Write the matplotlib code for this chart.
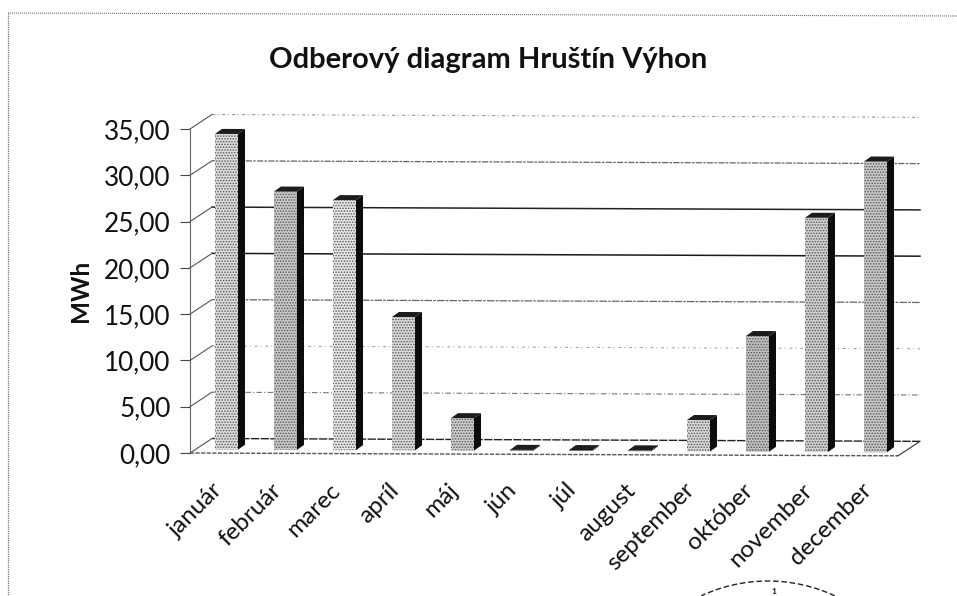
import matplotlib
matplotlib.use("Agg")
import matplotlib.pyplot as plt
from matplotlib.patches import Polygon, Arc
from matplotlib.transforms import Affine2D, IdentityTransform
from matplotlib.lines import Line2D
import numpy as np

plt.rcParams['font.family'] = ['Lato', 'DejaVu Sans']
plt.rcParams['hatch.linewidth'] = 0.7

months = ['január', 'február', 'marec', 'apríl', 'máj', 'jún', 'júl', 'august',
          'september', 'október', 'november', 'december']
values = [34.1, 27.9, 27.0, 14.4, 3.5, 0.1, 0.1, 0.1, 3.4, 12.5, 25.3, 31.4]
bar_greys = ['#dcdcdc', '#c8c8c8', '#e6e6e6', '#dadada', '#cccccc', '#888888',
             '#888888', '#888888', '#d8d8d8', '#c0c0c0', '#d0d0d0', '#c8c8c8']
yticks = [0, 5, 10, 15, 20, 25, 30, 35]
ylabels = ['0,00', '5,00', '10,00', '15,00', '20,00', '25,00', '30,00', '35,00']
title = 'Odberový diagram Hruštín Výhon'
ylabel = 'MWh'

W, H = 957, 596
fig = plt.figure(figsize=(W / 100, H / 100), dpi=100, facecolor='white')
L, R, B, T = 190, 898, 453, 129
ax = fig.add_axes([L / W, 1 - B / H, (R - L) / W, (B - T) / H])
ax.set_xlim(0, 12)
ax.set_ylim(0, 35)
ax.patch.set_visible(False)
for s in ['top', 'right', 'bottom']:
    ax.spines[s].set_visible(False)
ax.spines['left'].set_color('#666666')
ax.spines['left'].set_linewidth(0.8)
ax.spines['left'].set_linestyle((0, (1, 1)))

px = IdentityTransform()
tilt_k = 0.004
# the scan is very slightly tilted: y falls a little going right
tilt = Affine2D(np.array([[1, 0, 0], [-tilt_k, 1, tilt_k * L], [0, 0, 1]], float))
data = ax.transData + tilt
t_back = data + Affine2D().translate(22, 14.5)
t_bar = data + Affine2D().translate(7, 3.5)

# scanned page frame
for (x0, y0), (x1, y1), lw in [((8, 13), (957, 16), 0.8), ((8, 13), (8, 596), 0.9)]:
    fig.add_artist(Line2D([x0, x1], [H - y0, H - y1], transform=px, color='#777777', lw=lw,
                          ls=(0, (1, 0.8))))

# gridlines on the back wall and slanted connectors on the side wall
grid_styles = {
    0: ('#222222', 1.0, (0, (6, 1))),
    5: ('#777777', 0.8, (0, (5, 2, 1, 2))),
    10: ('#999999', 0.7, (0, (3, 3, 1, 4))),
    15: ('#666666', 0.9, (0, (6, 1, 2, 1))),
    20: ('#1a1a1a', 1.1, '-'),
    25: ('#222222', 1.1, '-'),
    30: ('#666666', 0.9, (0, (5, 1, 2, 1))),
    35: ('#999999', 0.8, (0, (3, 2, 1, 3))),
}
for v in yticks:
    c, lw, ls = grid_styles[v]
    ax.plot([0, 12], [v, v], color=c, lw=lw, ls=ls, transform=t_back, clip_on=False, zorder=1)
    p0 = data.transform((0, v))
    fig.add_artist(Line2D([p0[0], p0[0] + 22], [p0[1], p0[1] + 14.5], transform=px,
                          color='#555555', lw=0.8))

# floor front edge and right edge
ax.plot([0, 12], [0, 0], color='#555555', lw=1.0, ls=(0, (3, 1)), transform=data,
        clip_on=False, zorder=2)
p0 = data.transform((12, 0))
fig.add_artist(Line2D([p0[0], p0[0] + 22], [p0[1], p0[1] + 14.5], transform=px,
                      color='#333333', lw=0.8))

# bars
width = 0.39
d = np.array([7.0, 5.0])
for i, (v, g) in enumerate(zip(values, bar_greys)):
    x0, x1 = i + 0.5 - width / 2, i + 0.5 + width / 2
    ax.bar(i + 0.5, v, width=width, color=g, hatch='......', edgecolor='#555555',
           linewidth=0, transform=t_bar, zorder=3, clip_on=False)
    fb, ft = t_bar.transform((x1, 0)), t_bar.transform((x1, v))
    fl = t_bar.transform((x0, v))
    ax.add_patch(Polygon([fb, ft, ft + d, fb + d], closed=True, transform=px,
                         facecolor='#0c0c0c', edgecolor='none', zorder=4, clip_on=False))
    ax.add_patch(Polygon([fl, ft, ft + d, fl + d], closed=True, transform=px,
                         facecolor='#1c1c1c', edgecolor='none', zorder=4, clip_on=False))

ax.set_yticks(yticks)
ax.set_yticklabels(ylabels, fontsize=18.8, color='#111111')
ax.tick_params(axis='y', length=7, width=0.8, color='#444444', pad=7)
ax.set_xticks([i + 0.5 for i in range(12)])
ax.set_xticklabels(months, rotation=45, ha='right', rotation_mode='anchor',
                   fontsize=17.5, color='#111111')
ax.tick_params(axis='x', length=0, pad=19)
shift = Affine2D().translate(-8, 0)
for lab in ax.get_xticklabels():
    lab.set_transform(lab.get_transform() + shift)

fig.text(488 / W, 1 - 60 / H, title, fontsize=21, fontweight='bold', ha='center',
         va='center', color='#111111')
fig.text(80 / W, 1 - 291 / H, ylabel, fontsize=17.5, fontweight='bold', rotation=90,
         ha='center', va='center', color='#111111')

# top of a round stamp at the page edge
fig.add_artist(Arc((768, H - 739), 316, 316, theta1=65, theta2=115, transform=px,
                   color='#222222', lw=1.0, ls=(0, (4, 2))))
fig.text(774 / W, 1 - 595 / H, '1', fontsize=6, fontweight='bold', ha='center', va='bottom',
         color='#111111')

fig.savefig('out.png', dpi=100)
